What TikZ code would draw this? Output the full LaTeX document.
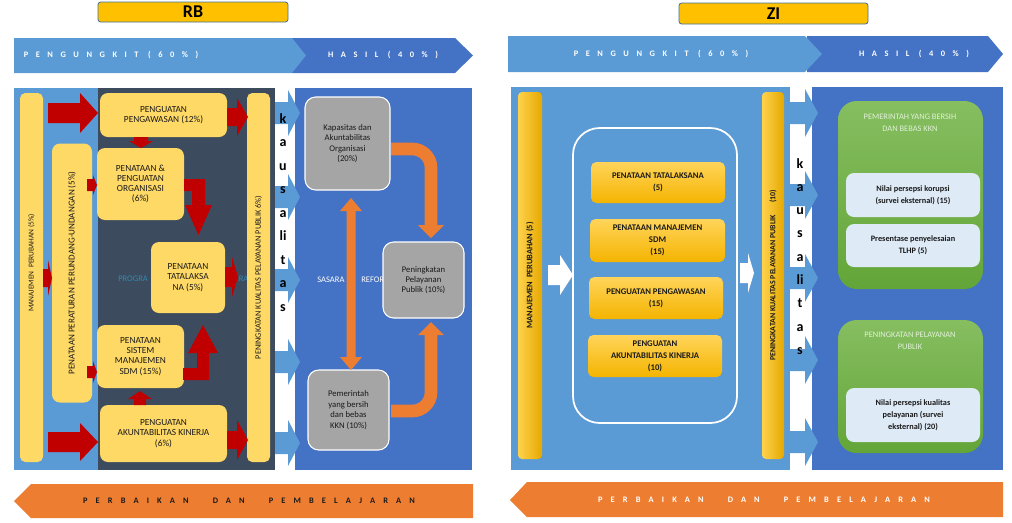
\documentclass[tikz,border=0pt]{standalone}
\usepackage{fontspec}
\setmainfont{Carlito}
\definecolor{lblue}{HTML}{5B9BD5}
\definecolor{dblue}{HTML}{4472C4}
\definecolor{slate}{HTML}{3D4B5E}
\definecolor{lyel}{HTML}{FFD966}
\definecolor{goldx}{HTML}{FFC000}
\definecolor{gtop}{HTML}{FFD45A}
\definecolor{gbot}{HTML}{F4B400}
\definecolor{gleft}{HTML}{FFD24D}
\definecolor{gright}{HTML}{E5A800}
\definecolor{rred}{HTML}{C00000}
\definecolor{orng}{HTML}{ED7D31}
\definecolor{gry}{HTML}{A5A5A5}
\definecolor{grtop}{HTML}{86BE60}
\definecolor{grbot}{HTML}{63A538}
\definecolor{pale}{HTML}{DEEBF7}
\definecolor{ttl}{HTML}{41719C}
\definecolor{tealx}{HTML}{2E8BB0}
\definecolor{txt}{HTML}{1A1A1A}
\definecolor{gtxt}{HTML}{E2F0D9}
\newcommand\fs[2]{\fontsize{#1}{#2}\selectfont}
\newcommand\Rarr[7]{\fill[#7] (#1,{#4-#5}) -- (#2,{#4-#5}) -- (#2,{#4-#6}) -- (#3,#4) -- (#2,{#4+#6}) -- (#2,{#4+#5}) -- (#1,{#4+#5}) -- cycle;}
\newcommand\Varr[7]{\fill[#7] ({#1-#5},#2) -- ({#1-#5},#3) -- ({#1-#6},#3) -- (#1,#4) -- ({#1+#6},#3) -- ({#1+#5},#3) -- ({#1+#5},#2) -- cycle;}
\tikzset{
  wh/.style 2 args={minimum width=#1*0.75pt, minimum height=#2*0.75pt, inner sep=0pt},
  ttlbox/.style={fill=goldx, draw=ttl, line width=0.6pt, rounded corners=2pt, inner sep=0pt, font=\fs{13.5}{14}\bfseries, text=black},
  hdr/.style={font=\fs{6.3}{7}\bfseries\addfontfeature{LetterSpace=90}, text=white, inner sep=0pt},
  ftr/.style={font=\fs{6.3}{7}\bfseries\addfontfeature{LetterSpace=97}, text=white, inner sep=0pt},
  ybox/.style={fill=lyel, rounded corners=6pt, align=center, font=\fs{7}{7.7}, text=txt},
  gbox/.style={fill=gry, draw=white, line width=0.8pt, rounded corners=8pt, align=center, font=\fs{6.5}{7.8}, text=txt},
  zbox/.style={top color=gtop, bottom color=gbot, rounded corners=4pt, align=center, font=\fs{6.5}{9}\bfseries, text=txt},
  zcol/.style={left color=gleft, right color=gright, rounded corners=3pt, rotate=90, font=\fs{6.3}{7}\bfseries, text=txt},
  grnbox/.style={top color=grtop, bottom color=grbot, rounded corners=14pt},
  palebox/.style={fill=pale, rounded corners=6pt, align=center, font=\fs{6.2}{8.8}\bfseries, text=txt},
  kaus/.style={anchor=base, font=\fs{10.5}{11}\bfseries, text=black, inner sep=0pt},
  bglbl/.style={anchor=west, inner sep=0pt, font=\fs{6.4}{7}},
  orline/.style={draw=orng, line width=9.5pt, rounded corners=14pt}
}
\begin{document}
\begin{tikzpicture}[x=0.75pt,y=-0.75pt]
\useasboundingbox (0,0) rectangle (1012,522);
% ===== titles
\node[ttlbox, wh={190}{20}] (rb) at (193,12) {RB};
\node[ttlbox, wh={189}{21}] (zi) at (773.5,13.5) {ZI};
% ===== header arrows
\fill[dblue] (292,38) -- (455,38) -- (473,55.5) -- (455,73) -- (292,73) -- cycle;
\fill[lblue] (14,38) -- (292,38) -- (306,55.5) -- (292,73) -- (14,73) -- cycle;
\node[hdr] (hpl) at (111,55.5) {PENGUNGKIT (60\%)};
\node[hdr] (hhl) at (383,55.5) {HASIL (40\%)};
\fill[dblue] (807,36) -- (988,36) -- (1003,54) -- (988,72) -- (807,72) -- cycle;
\fill[lblue] (508,36) -- (805,36) -- (822,54) -- (805,72) -- (508,72) -- cycle;
\node[hdr] (hpr) at (661,54) {PENGUNGKIT (60\%)};
\node[hdr] (hhr) at (914,54) {HASIL (40\%)};
% ===== panels
\fill[lblue] (14,88) rectangle (98,470);
\fill[slate] (98,88) rectangle (275,470);
\fill[dblue] (295,88) rectangle (472,470);
\fill[lblue] (511,87) rectangle (790,470);
\fill[dblue] (812,87) rectangle (1003,470);
% background labels (visible parts only)
\node[bglbl, text=tealx] (prog1) at (118,279) {PROGRA};
\node[bglbl, text=tealx] (prog2) at (238.5,279) {RA};
\node[bglbl, text=white] (sas1) at (317,280) {SASARA};
\node[bglbl, text=white] (sas2) at (361,280) {REFOR};
% ===== kausalitas arrows
\foreach \c in {113,197,280,362,443} {\Rarr{275}{288}{300}{\c}{11}{23}{lblue}}
\foreach \c in {113,195,278,360,442} {\Rarr{790}{805}{818}{\c}{11}{24}{lblue}}
\foreach \t [count=\i] in {k,a,u,s,a,li,t,a,s} {
  \node[kaus] (kl\i) at (283,{123+23.5*(\i-1)}) {\t};
  \node[kaus] (kr\i) at (800,{168+23.3*(\i-1)}) {\t};
}
% ===== RB yellow boxes
\node[ybox, wh={369}{23}, rotate=90, rounded corners=4pt] (mp) at (31.5,277.5) {};
\node[rotate=90, inner sep=0pt, font=\fs{5.6}{6}, text=txt] (mpt) at (31.5,263) {MANAJEMEN\ \ PERUBAHAN (5\%)};
\node[ybox, wh={259}{40}, rotate=90, font=\fs{6.8}{7}] (pp) at (72,273) {PENATAAN PERATURAN PERUNDANG-UNDANGAN (5\%)};
\node[ybox, wh={127}{44}] (pgw) at (163.5,115) {PENGUATAN\\PENGAWASAN (12\%)};
\node[ybox, wh={87}{72}] (org) at (140.5,184) {PENATAAN \&\\PENGUATAN\\ORGANISASI\\(6\%)};
\node[ybox, wh={74}{71}] (tata) at (188,277.5) {PENATAAN\\TATALAKSA\\NA (5\%)};
\node[ybox, wh={87}{63}] (sdm) at (140.5,356.5) {PENATAAN\\SISTEM\\MANAJEMEN\\SDM (15\%)};
\node[ybox, wh={127}{57}] (akt) at (163.5,433.5) {PENGUATAN\\AKUNTABILITAS KINERJA\\(6\%)};
\node[ybox, wh={369}{23}, rotate=90, rounded corners=4pt, font=\fs{6.2}{7}] (pkp) at (258.5,277.5) {PENINGKATAN KUALITAS PELAYANAN PUBLIK 6\%)};
% ===== red arrows
\Rarr{48}{80}{98}{113}{10}{20}{rred}
\Rarr{48}{80}{98}{442}{10}{19}{rred}
\Rarr{43}{48}{52}{278}{9}{18}{rred}
\Rarr{87}{93}{97}{185}{6}{10}{rred}
\Rarr{87}{93}{97}{372}{6}{11}{rred}
\Rarr{227}{237}{248}{117}{9}{19}{rred}
\Rarr{225}{232}{238}{277}{10}{20}{rred}
\Rarr{227}{237}{248}{440}{9}{20}{rred}
\Varr{141}{137}{141}{148}{7}{12}{rred}
\Varr{140}{405}{399}{391}{6}{12}{rred}
\fill[rred] (184,179) -- (205,179) -- (205,205) -- (212,205) -- (198.5,235) -- (185,205) -- (192,205) -- (192,191) -- (184,191) -- cycle;
\fill[rred] (183,380) -- (209,380) -- (209,353) -- (218,353) -- (203,325) -- (188,353) -- (197,353) -- (197,368) -- (183,368) -- cycle;
% ===== RB hasil
\node[gbox, wh={85}{93}] (kap) at (347.5,143.5) {Kapasitas dan\\Akuntabilitas\\Organisasi\\(20\%)};
\node[gbox, wh={81}{76}] (pel) at (423.5,280) {Peningkatan\\Pelayanan\\Publik (10\%)};
\node[gbox, wh={81}{80}] (pem) at (348.5,410) {Pemerintah\\yang bersih\\dan bebas\\KKN (10\%)};
\fill[orng] (346.5,211) -- (340,211) -- (351,198) -- (362,211) -- (355.5,211) -- (355.5,357) -- (362,357) -- (351,370) -- (340,357) -- (346.5,357) -- cycle;
\draw[orline] (391,149) -| (431,226);
\fill[orng] (418,225) -- (444,225) -- (431,238) -- cycle;
\draw[orline] (391,411) -| (431,334);
\fill[orng] (418,335) -- (444,335) -- (431,322) -- cycle;
% ===== ZI pengungkit
\node[zcol, wh={367}{24}] (zmp) at (530,275.5) {MANAJEMEN\ \ PERUBAHAN (5)};
\Rarr{548}{560}{573}{275}{10}{20}{white}
\node[draw=white, line width=1.3pt, rounded corners=20pt, wh={164}{295}] (frame) at (655,275.5) {};
\node[zbox, wh={134}{41}] (zb1) at (658,182.5) {PENATAAN TATALAKSANA\\(5)};
\node[zbox, wh={135}{43}] (zb2) at (657.5,240.5) {PENATAAN MANAJEMEN\\SDM\\(15)};
\node[zbox, wh={134}{42}] (zb3) at (656,298) {PENGUATAN PENGAWASAN\\(15)};
\node[zbox, wh={134}{42}] (zb4) at (655,356) {PENGUATAN\\AKUNTABILITAS KINERJA\\(10)};
\Rarr{740}{748}{754}{273}{10}{20}{white}
\node[zcol, wh={367}{22}, font=\fs{5.9}{7}\bfseries] (zpk) at (773,275.5) {PENINGKATAN KUALITAS PELAYANAN PUBLIK\hspace{9pt}(10)};
% ===== ZI hasil
\node[grnbox, wh={145}{188}] (g1) at (910.5,195) {};
\node[inner sep=0pt, align=center, text=gtxt, font=\fs{6.3}{9}] (g1t) at (910,123) {PEMERINTAH YANG BERSIH\\DAN BEBAS KKN};
\node[palebox, wh={134}{44}] (g1a) at (913,195) {Nilai persepsi korupsi\\(survei eksternal) (15)};
\node[palebox, wh={134}{43}] (g1b) at (913,245.5) {Presentase penyelesaian\\TLHP (5)};
\node[grnbox, wh={145}{133}] (g2) at (910.5,386.5) {};
\node[inner sep=0pt, align=center, text=gtxt, font=\fs{6.3}{9}] (g2t) at (910,341) {PENINGKATAN PELAYANAN\\PUBLIK};
\node[palebox, wh={134}{54}] (g2a) at (913,415) {Nilai persepsi kualitas\\pelayanan (survei\\eksternal) (20)};
% ===== bottom arrows
\fill[orng] (14,501) -- (31,484) -- (473,484) -- (473,518) -- (31,518) -- cycle;
\fill[orng] (510,500) -- (527,482) -- (1003,482) -- (1003,517) -- (527,517) -- cycle;
\node[ftr, text=txt] (bl) at (249,501) {PERBAIKAN\hspace{18pt}DAN\hspace{18pt}PEMBELAJARAN};
\node[ftr] (br) at (764,499.5) {PERBAIKAN\hspace{18pt}DAN\hspace{18pt}PEMBELAJARAN};
\end{tikzpicture}
\end{document}
